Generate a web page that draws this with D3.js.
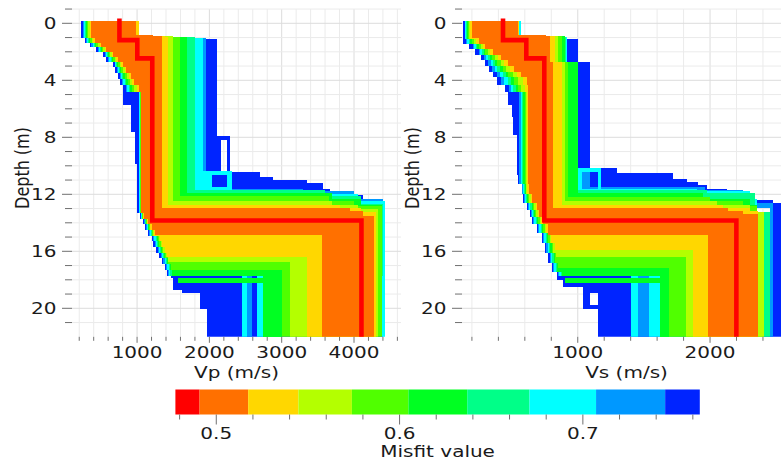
<!DOCTYPE html>
<html><head><meta charset="utf-8">
<script src="https://cdn.jsdelivr.net/npm/d3@7/dist/d3.min.js"></script>
<style>html,body{margin:0;padding:0;background:#fff;}svg{display:block;font-family:"DejaVu Sans",sans-serif;}</style>
</head><body><svg id="chart" width="781" height="462"></svg>
<script>
// ---------------- DATA ----------------
// misfit classes (best -> worst) and colour-bar bin edges
const misfitColors = ["#ff0000","#ff7000","#ffd700","#b4ff00","#50ff00","#00ff22","#00ff88","#00ffff","#0098ff","#0024ff"];
const misfitEdges = [0.4777,0.4909,0.5174,0.5448,0.5740,0.6048,0.6369,0.6709,0.7072,0.7449,0.7638];
const misfitTicks = [0.48,0.50,0.52,0.54,0.56,0.58,0.60,0.62,0.64,0.66,0.68,0.70,0.72,0.74,0.76];
const misfitLabels = [0.5,0.6,0.7];

const depthDomain = [-1,22];
const depthTicks = [-1,0,1,2,3,4,5,6,7,8,9,10,11,12,13,14,15,16,17,18,19,20,21];
const depthLabels = [0,4,8,12,16,20];
const vpDomain = [100,4650];
const vsDomain = [125,2612];
const vpTicks = [200,400,600,800,1000,1200,1400,1600,1800,2000,2200,2400,2600,2800,3000,3200,3400,3600,3800,4000,4200,4400,4600];
const vpLabels = [1000,2000,3000,4000];
const vsTicks = [200,400,600,800,1000,1200,1400,1600,1800,2000,2200,2400,2600];
const vsLabels = [1000,2000];

// best-misfit profiles: [velocity, layer bottom depth]
const vpBest = [[756,1.18],[1003,2.46],[1210,13.84],[4103,22]];
const vsBest = [[435,1.18],[611,2.46],[747,13.84],[2199,22]];

// ranges covered by the profiles of each misfit class: lo / hi envelopes as [velocity, bottom depth]
const vpBlue = [
 {top:0, lo:[[230,1.05],[276,1.4],[345,1.64],[437,2.0],[529,2.34],[576,2.7],[668,3.1],[700,3.5],[730,3.9],[760,4.33],[806,5.73],[922,7.6],[968,9.9],[1000,13.3],[1040,13.7],[1083,14.1],[1110,14.5],[1150,14.9],[1200,15.3],[1225,15.7],[1260,16.1],[1300,16.5],[1340,16.9],[1380,17.3],[1407,17.7],[1476,17.9],[1499,18.75],[1615,18.95],[1868,20.05],[1961,22]],
  hi:[[1000,1.1],[2110,7.9],[2290,8.2],[2165,10.35],[2290,10.43],[2700,10.76],[2885,11.0],[3346,11.23],[3576,11.6],[3669,12.05],[4131,12.5],[4177,12.7],[4270,13.1],[4407,13.45],[4400,22]]},
 {top:8.2, lo:[[2238,10.35]], hi:[[2290,10.35]]}
];
const vpAzure = [
 {top:0, lo:[[251,1.05],[297,1.4],[369,1.64],[458,2.0],[550,2.34],[601,2.7],[688,3.1],[723,3.5],[757,3.9],[790,4.33],[840,4.8],[1020,13.3],[1048,13.7],[1095,14.1],[1125,14.5],[1165,14.9],[1225,15.3],[1250,15.7],[1285,16.1],[1325,16.5],[1365,16.9],[1405,17.3],[1432,17.7],[2515,22]],
  hi:[[1000,1.05],[1960,10.35],[2030,11.5],[2316,11.6],[3300,11.8],[4000,12.3],[4400,17.7],[2584,22]]}
];
const vpCyan = [
 {top:0, lo:[[265,1.05],[311,1.4],[386,1.64],[472,2.0],[564,2.34],[617,2.7],[701,3.1],[738,3.5],[775,3.9],[810,4.33],[862,4.8],[1025,13.3],[1055,13.7],[1103,14.1],[1135,14.5],[1177,14.9],[1240,15.3],[1265,15.7],[1300,16.1],[1340,16.5],[1380,16.9],[1420,17.3],[1447,17.7],[2446,22]],
  hi:[[1000,1.0],[1914,10.35],[2316,10.64],[2030,11.5],[2316,11.7],[3400,12.0],[4050,12.5],[4430,17.7],[2515,22]]},
 {top:10.64, lo:[[2238,11.5]], hi:[[2316,11.5]]},
 {top:17.7, lo:[[2654,22]], hi:[[2745,22]]},
 {top:17.7, lo:[[4384,22]], hi:[[4430,22]]}
];
const vpSpring = [
 {top:0, lo:[[278,1.05],[324,1.4],[402,1.64],[486,2.0],[578,2.34],[633,2.7],[714,3.1],[753,3.5],[793,3.9],[830,4.33],[884,4.8],[1035,13.3],[1062,13.7],[1111,14.1],[1145,14.5],[1189,14.9],[1255,15.3],[1280,15.7],[1315,16.1],[1355,16.5],[1395,16.9],[1435,17.3],[1462,17.7],[2745,22]],
  hi:[[1000,0.98],[1799,11.7],[3600,12.1],[4100,12.7],[4400,17.7],[3000,22]]}
];
const vpGreen2 = [
 {top:0, lo:[[292,1.05],[338,1.4],[418,1.64],[500,2.0],[592,2.34],[650,2.7],[727,3.1],[768,3.5],[811,3.9],[850,4.33],[907,4.8],[1040,13.3],[1068,13.7],[1119,14.1],[1155,14.5],[1201,14.9],[1270,15.3],[1295,15.7],[1330,16.1],[1370,16.5],[1410,16.9],[1450,17.3],[1477,17.7],[2745,22]],
  hi:[[1000,0.95],[1684,11.9],[3700,12.3],[4100,12.75],[4384,17.7],[3000,22]]},
 {top:17.9, lo:[[1560,18.25],[2745,22]], hi:[[3000,22]]}
];
const vpGreen = [
 {top:0, lo:[[306,1.05],[352,1.4],[434,1.64],[513,2.0],[605,2.34],[666,2.7],[741,3.1],[783,3.5],[829,3.9],[870,4.33],[929,4.8],[1045,13.3],[1074,13.7],[1127,14.1],[1165,14.5],[1213,14.9],[1285,15.3],[1310,15.7],[1345,16.1],[1385,16.5],[1425,16.9],[1465,17.3],[3000,22]],
  hi:[[1000,0.93],[1591,12.15],[3650,12.5],[4000,12.85],[4384,22]]}
];
const vpYg = [
 {top:0, lo:[[327,1.05],[373,1.4],[458,1.64],[534,2.0],[626,2.34],[691,2.7],[760,3.1],[805,3.5],[856,3.9],[900,4.33],[963,4.8],[1050,13.3],[1080,13.7],[1135,14.1],[1175,14.5],[1225,14.9],[1300,15.3],[1325,15.7],[1360,16.1],[1400,16.4],[1430,16.75],[3115,22]],
  hi:[[1000,0.9],[1499,12.5],[3700,12.75],[4050,13.05],[4338,22]]}
];
const vpYellow = [
 {top:0, lo:[[347,1.05],[393,1.4],[483,1.64],[555,2.0],[647,2.34],[715,2.7],[780,3.1],[828,3.5],[883,3.9],[930,4.33],[996,4.8],[1055,13.3],[1086,13.7],[1143,14.1],[1185,14.5],[1237,14.9],[1320,15.3],[1345,15.7],[1380,16.1],[1420,16.4],[3355,22]],
  hi:[[1023,0.86],[1380,0.93],[1430,12.75],[3800,12.95],[4100,13.25],[4302,22]]}
];
const vpOrange = [
 {top:0, lo:[[368,1.05],[414,1.4],[507,1.64],[576,2.0],[668,2.34],[740,2.7],[800,3.1],[850,3.5],[910,3.9],[960,4.33],[1030,4.8],[1061,13.3],[1092,13.7],[1155,14.1],[1200,14.5],[1250,14.86],[3554,22]],
  hi:[[990,0.82],[1219,0.9],[1338,12.98],[3950,13.2],[4130,13.5],[4270,22]]}
];

const vsBlue = [
 {top:0, lo:[[135,1.45],[180,1.8],[225,2.2],[265,2.6],[300,3.0],[330,3.4],[362,3.8],[388,4.3],[450,4.8],[475,5.73],[501,6.6],[513,7.84],[539,9.47],[543,10.65],[551,11.3],[577,12.0],[589,12.63],[615,13.1],[639,13.6],[652,14.1],[690,14.74],[728,15.44],[753,16.14],[778,16.84],[803,17.43],[841,18.0],[891,18.48],[1042,18.9],[1153,19.8],[1042,20.05],[1156,22]],
  hi:[[569,1.1],[1005,2.69],[1093,10.18],[1300,10.5],[1720,10.95],[1825,11.13],[1910,11.37],[1976,11.6],[2130,12.0],[2280,12.2],[2340,12.4],[2475,12.63],[2560,12.95],[2353,13.25],[2560,22]]},
 {top:18.9, lo:[[1042,19.8]], hi:[[1093,19.8]]},
 {top:12.95, lo:[[2479,13.25]], hi:[[2560,13.25]]}
];
const vsAzure = [
 {top:0, lo:[[145,1.1],[152,1.45],[206,1.8],[250,2.2],[292,2.6],[325,3.0],[353,3.4],[393,3.8],[423,4.3],[477,4.8],[558,11.3],[582,12.0],[592,12.6],[622,13.1],[645,13.6],[662,14.1],[700,14.74],[738,15.44],[763,16.14],[788,16.84],[813,17.43],[851,17.7],[1453,22]],
  hi:[[569,0.98],[917,2.69],[1005,11.5],[1960,11.7],[2250,12.0],[2322,12.6],[2479,12.95],[2353,13.25],[2479,17.7],[1541,22]]},
 {top:10.45, lo:[[1030,11.6]], hi:[[1093,11.6]]},
 {top:12.95, lo:[[2453,13.25]], hi:[[2479,13.25]]},
 {top:17.7, lo:[[2453,22]], hi:[[2479,22]]}
];
const vsCyan = [
 {top:0, lo:[[151,1.1],[164,1.45],[218,1.8],[262,2.2],[307,2.6],[342,3.0],[373,3.4],[414,3.8],[446,4.3],[494,4.8],[568,11.3],[588,12.0],[600,12.6],[632,13.1],[652,13.6],[672,14.1],[710,14.74],[748,15.44],[773,16.14],[798,16.84],[823,17.43],[861,17.7],[1403,22]],
  hi:[[569,0.96],[915,2.69],[1005,10.18],[1030,11.6],[1900,11.8],[2300,12.3],[2353,13.25],[2453,17.7],[1453,22]]},
 {top:10.18, lo:[[1030,10.45]], hi:[[1177,10.45]]},
 {top:10.45, lo:[[1150,11.7]], hi:[[1177,11.7]]},
 {top:17.7, lo:[[1541,22]], hi:[[1622,22]]}
];
const vsSpring = [
 {top:0, lo:[[157,1.1],[175,1.45],[228,1.8],[276,2.2],[322,2.6],[360,3.0],[393,3.4],[435,3.8],[469,4.3],[512,4.8],[578,11.3],[594,12.0],[608,12.6],[642,13.1],[660,13.6],[682,14.1],[720,14.74],[758,15.44],[783,16.14],[808,16.84],[833,17.43],[871,17.7],[1622,22]],
  hi:[[555,0.94],[910,2.69],[1000,11.7],[1976,11.9],[2340,13.25],[2453,22]]}
];
const vsGreen2 = [
 {top:0, lo:[[164,1.1],[187,1.45],[240,1.8],[288,2.2],[337,2.6],[376,3.0],[412,3.4],[456,3.8],[492,4.3],[530,4.8],[588,11.3],[600,12.0],[616,12.6],[652,13.1],[668,13.6],[692,14.1],[730,14.74],[768,15.44],[793,16.14],[818,16.84],[843,17.43],[881,17.7],[1622,22]],
  hi:[[555,0.92],[905,2.69],[1000,11.9],[1950,12.3],[2300,12.75],[2353,13.25],[2408,17.7],[1692,22]]},
 {top:17.9, lo:[[900,18.25],[1622,22]], hi:[[1692,22]]}
];
const vsGreen = [
 {top:0, lo:[[170,1.1],[198,1.45],[250,1.8],[302,2.2],[352,2.6],[393,3.0],[432,3.4],[476,3.8],[516,4.3],[547,4.8],[598,11.3],[606,12.0],[624,12.6],[662,13.1],[676,13.6],[702,14.1],[740,14.74],[778,15.44],[803,16.14],[828,16.84],[853,17.2],[1692,22]],
  hi:[[555,0.9],[880,2.69],[929,12.2],[2000,12.5],[2250,12.85],[2353,13.25],[2408,22]]}
];
const vsYg = [
 {top:0, lo:[[180,1.1],[216,1.45],[267,1.8],[321,2.2],[375,2.6],[419,3.0],[461,3.4],[508,3.8],[550,4.3],[574,4.8],[608,11.3],[612,12.0],[634,12.6],[672,13.1],[686,13.6],[712,14.1],[750,14.74],[788,15.44],[813,16.14],[838,16.38],[1819,22]],
  hi:[[555,0.88],[850,2.69],[904,12.5],[2050,12.75],[2300,13.25],[2408,22]]}
];
const vsYellow = [
 {top:0, lo:[[189,1.1],[233,1.45],[283,1.8],[340,2.2],[397,2.6],[444,3.0],[491,3.4],[539,3.8],[585,4.3],[600,4.8],[618,12.0],[644,12.6],[684,13.1],[696,13.6],[724,14.1],[762,14.74],[800,15.44],[825,15.91],[1869,22]],
  hi:[[555,0.86],[830,2.69],[879,12.75],[2100,12.95],[2300,13.15],[2360,22]]}
];
const vsOrange = [
 {top:0, lo:[[199,1.05],[250,1.45],[300,1.8],[360,2.2],[420,2.6],[470,3.0],[520,3.4],[570,3.8],[620,4.3],[627,11.3],[630,12.0],[655,12.6],[695,13.1],[705,13.6],[735,14.1],[772,14.86],[1987,22]],
  hi:[[551,0.82],[760,0.92],[790,2.69],[816,12.98],[2139,13.15],[2250,13.35],[2360,22]]}
];

// ---------------- DRAWING ----------------
const SX = 1.25;            // horizontal text stretch seen in the reference
const capPad = 2.4;         // square line caps at the surface
const yTop = 9.05, yBot = 336.8;
const svg = d3.select("#chart");
const y = d3.scaleLinear().domain(depthDomain).range([yTop, yBot]);

function stepPts(top, steps){
  const pts=[]; let d0=top;
  for(const [v,b] of steps){ pts.push([v,d0]); pts.push([v,b]); d0=b; }
  return pts;
}
function yy(d){ return d===0 ? y(0)-capPad : y(d); }

function sText(g, x, yv, str, anchor, rot){
  return g.append("text")
    .attr("transform", `translate(${x},${yv}) scale(${SX},1)` + (rot ? " rotate(-90)" : ""))
    .attr("text-anchor", anchor).attr("font-size", 16).attr("fill", "#1a1a1a").text(str);
}

const panels = [
 {id:"vp", x0:72, x1:401, domain:vpDomain, ticks:vpTicks, labels:vpLabels, title:"Vp (m/s)", best:vpBest,
  sets:[[9,vpBlue],[8,vpAzure],[7,vpCyan],[6,vpSpring],[5,vpGreen2],[4,vpGreen],[3,vpYg],[2,vpYellow],[1,vpOrange]]},
 {id:"vs", x0:462, x1:791, domain:vsDomain, ticks:vsTicks, labels:vsLabels, title:"Vs (m/s)", best:vsBest,
  sets:[[9,vsBlue],[8,vsAzure],[7,vsCyan],[6,vsSpring],[5,vsGreen2],[4,vsGreen],[3,vsYg],[2,vsYellow],[1,vsOrange]]}
];

const defs = svg.append("defs");
panels.forEach(p=>{
  const x = d3.scaleLinear().domain(p.domain).range([p.x0, p.x1]);
  const g = svg.append("g");
  defs.append("clipPath").attr("id","clip-"+p.id).append("rect")
    .attr("x",p.x0).attr("y",yTop).attr("width",p.x1-p.x0).attr("height",yBot-yTop);
  // grid
  const grid = g.append("g");
  p.ticks.forEach(t=>{
    grid.append("line").attr("x1",x(t)).attr("x2",x(t)).attr("y1",yTop).attr("y2",yBot)
      .attr("stroke", p.labels.includes(t) ? "#dcdcdc" : "#ebebeb").attr("stroke-width",1);
  });
  depthTicks.forEach(t=>{
    grid.append("line").attr("x1",p.x0).attr("x2",p.x1).attr("y1",y(t)).attr("y2",y(t))
      .attr("stroke", depthLabels.includes(t) ? "#dcdcdc" : "#ebebeb").attr("stroke-width",1);
  });
  // profile ensembles
  const data = g.append("g").attr("clip-path",`url(#clip-${p.id})`);
  const line = d3.line().x(d=>x(d[0])).y(d=>yy(d[1]));
  p.sets.forEach(([ci, bands])=>{
    bands.forEach(b=>{
      const hi = stepPts(b.top, b.hi);
      const lo = stepPts(b.top, b.lo).reverse();
      data.append("path").attr("d", line(hi.concat(lo))+"Z")
        .attr("fill", misfitColors[ci]).attr("shape-rendering","crispEdges");
    });
  });
  data.append("path").attr("d", line(stepPts(0,p.best)))
    .attr("fill","none").attr("stroke",misfitColors[0]).attr("stroke-width",4.6)
    .attr("stroke-linecap","square").attr("stroke-linejoin","miter");
  // axes
  const ax = g.append("g").attr("stroke","#707070").attr("stroke-width",1);
  depthTicks.forEach(t=>{
    const L = depthLabels.includes(t) ? 10 : 7;
    ax.append("line").attr("x1",p.x0-L).attr("x2",p.x0).attr("y1",y(t)).attr("y2",y(t));
  });
  p.ticks.forEach(t=>{
    const L = p.labels.includes(t) ? 6 : 4;
    ax.append("line").attr("x1",x(t)).attr("x2",x(t)).attr("y1",yBot).attr("y2",yBot+L);
  });
  depthLabels.forEach(t=> sText(g, p.x0-15.5, y(t)+5.8, String(t), "end"));
  p.labels.forEach(t=> sText(g, x(t), 358.3, String(t), "middle"));
  sText(g, (p.x0+p.x1)/2, 378.4, p.title, "middle");
});
sText(svg, 28.5, 168, "Depth (m)", "middle", true);
sText(svg, 28.5+390, 168, "Depth (m)", "middle", true);

// colour bar
const cx = d3.scaleLinear().domain([misfitEdges[0], misfitEdges[misfitEdges.length-1]]).range([175.4, 699.8]);
const cb = svg.append("g");
misfitColors.forEach((c,i)=>{
  cb.append("rect").attr("x",cx(misfitEdges[i])).attr("y",389.5)
    .attr("width",cx(misfitEdges[i+1])-cx(misfitEdges[i])).attr("height",25).attr("fill",c);
});
misfitTicks.forEach(t=>{
  const L = misfitLabels.some(l=>Math.abs(l-t)<1e-9) ? 10 : 5;
  cb.append("line").attr("x1",cx(t)).attr("x2",cx(t)).attr("y1",414.5).attr("y2",414.5+L)
    .attr("stroke","#707070").attr("stroke-width",1);
});
misfitLabels.forEach(t=> sText(cb, cx(t), 438.5, t.toFixed(1), "middle"));
sText(cb, 437.6, 457, "Misfit value", "middle");
</script></body></html>
